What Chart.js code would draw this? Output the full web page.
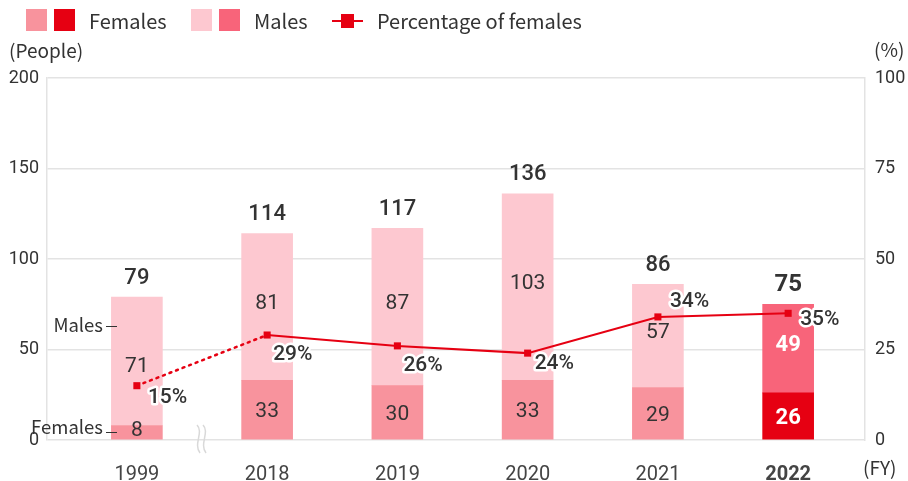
<!DOCTYPE html>
<html>
<head>
<meta charset="utf-8">
<script src="https://cdn.jsdelivr.net/npm/chart.js@4.4.0/dist/chart.umd.min.js"></script>
<style>
  html, body { margin: 0; padding: 0; background: #fff; }
  #wrap { position: relative; width: 908px; height: 481px; }
</style>
</head>
<body>
<div id="wrap"><canvas id="chart" width="908" height="481"></canvas></div>
<script>
const years = ["1999", "2018", "2019", "2020", "2021", "2022"];
const females = [8, 33, 30, 33, 29, 26];
const males = [71, 81, 87, 103, 57, 49];
const totals = [79, 114, 117, 136, 86, 75];
const pctFemales = [15, 29, 26, 24, 34, 35];
const leftTicks = [0, 50, 100, 150, 200];
const rightTicks = [0, 25, 50, 75, 100];

const femaleColors = ["#f8939d", "#f8939d", "#f8939d", "#f8939d", "#f8939d", "#e60012"];
const maleColors = ["#fdc8d0", "#fdc8d0", "#fdc8d0", "#fdc8d0", "#fdc8d0", "#f8647a"];
const red = "#e60012";
const textDark = "#333333";
const numFont = "Roboto, 'Noto Sans', sans-serif";
const jpFont = "'Noto Sans CJK JP', 'Noto Sans', sans-serif";

// where each % label sits relative to its point
const pctOffsets = [[11, 12], [6, 20], [6, 20], [7, 11], [12, -15], [12, 6]];

const labelsPlugin = {
  id: "labels",
  afterDatasetsDraw(chart) {
    const ctx = chart.ctx;
    const fem = chart.getDatasetMeta(0).data;
    const mal = chart.getDatasetMeta(1).data;
    const pts = chart.getDatasetMeta(2).data;
    ctx.save();
    ctx.textAlign = "center";
    ctx.textBaseline = "middle";
    years.forEach((y, i) => {
      const last = i === years.length - 1;
      ctx.fillStyle = last ? "#fff" : textDark;
      ctx.font = (last ? "bold 22px " : "21px ") + numFont;
      ctx.fillText(females[i], fem[i].x, (fem[i].y + fem[i].base) / 2 + (i === 0 ? -2 : 2));
      ctx.fillText(males[i], mal[i].x, (mal[i].y + mal[i].base) / 2 + (i === 0 ? 5 : -3));
      ctx.fillStyle = textDark;
      ctx.font = (last ? "bold 24px " : "500 22px ") + numFont;
      ctx.fillText(totals[i], mal[i].x, mal[i].y - 19);
    });
    ctx.textAlign = "left";
    ctx.font = "500 21px " + numFont;
    ctx.lineJoin = "round";
    pts.forEach((p, i) => {
      const [dx, dy] = pctOffsets[i];
      ctx.strokeStyle = "#fff";
      ctx.lineWidth = 5;
      ctx.strokeText(pctFemales[i] + "%", p.x + dx, p.y + dy);
      ctx.fillStyle = textDark;
      ctx.fillText(pctFemales[i] + "%", p.x + dx, p.y + dy);
    });
    ctx.restore();
  }
};

const decorPlugin = {
  id: "decor",
  afterDraw(chart) {
    const ctx = chart.ctx;
    ctx.save();
    ctx.textBaseline = "middle";
    // legend
    const sq = (x, c) => { ctx.fillStyle = c; ctx.fillRect(x, 9, 21, 22); };
    sq(26, "#f8939d"); sq(54, red);
    sq(191, "#fdc8d0"); sq(219, "#f8647a");
    ctx.strokeStyle = red; ctx.lineWidth = 2;
    ctx.beginPath(); ctx.moveTo(332, 21); ctx.lineTo(363, 21); ctx.stroke();
    ctx.fillStyle = red; ctx.fillRect(341, 14, 13, 14);
    ctx.fillStyle = textDark;
    ctx.font = "20px " + jpFont;
    ctx.textAlign = "left";
    ctx.fillText("Females", 89, 21);
    ctx.fillText("Males", 254, 21);
    ctx.fillText("Percentage of females", 377, 21);
    // axis titles
    ctx.font = "19px " + jpFont;
    ctx.fillText("(People)", 9, 51);
    ctx.fillText("(%)", 874, 50);
    ctx.fillText("(FY)", 863, 468);
    // side notes on the 1999 bar
    ctx.textAlign = "right";
    ctx.font = "18.5px " + jpFont;
    ctx.fillText("Males", 103, 325);
    ctx.fillText("Females", 103, 427);
    ctx.strokeStyle = textDark; ctx.lineWidth = 1;
    ctx.beginPath();
    ctx.moveTo(106, 326.5); ctx.lineTo(117, 326.5);
    ctx.moveTo(106, 432.5); ctx.lineTo(117, 432.5);
    ctx.stroke();
    // axis break mark
    const bx = chart.scales.x.getPixelForValue(0.5);
    ctx.strokeStyle = "#d9d9d9"; ctx.lineWidth = 1.5;
    [-3, 3].forEach(o => {
      ctx.beginPath();
      ctx.moveTo(bx + o - 2, 425);
      ctx.bezierCurveTo(bx + o + 5, 432, bx + o - 6, 444, bx + o + 1, 453);
      ctx.stroke();
    });
    ctx.restore();
  }
};

new Chart(document.getElementById("chart"), {
  data: {
    datasets: [
      {
        type: "bar",
        label: "Females",
        data: females.map((v, i) => ({ x: i, y: v })),
        backgroundColor: femaleColors,
        barThickness: 51,
        yAxisID: "y",
        order: 1
      },
      {
        type: "bar",
        label: "Males",
        data: males.map((v, i) => ({ x: i, y: v })),
        backgroundColor: maleColors,
        barThickness: 51,
        yAxisID: "y",
        order: 1
      },
      {
        type: "line",
        label: "Percentage of females",
        data: pctFemales.map((v, i) => ({ x: i, y: v })),
        borderColor: red,
        backgroundColor: red,
        borderWidth: 2,
        pointStyle: "rect",
        pointRadius: 5,
        pointBorderWidth: 0,
        yAxisID: "y2",
        order: 0,
        segment: {
          borderDash: (c) => (c.p0DataIndex === 0 ? [2, 5] : undefined),
          borderWidth: (c) => (c.p0DataIndex === 0 ? 2.5 : 2)
        },
        borderCapStyle: "round"
      }
    ]
  },
  options: {
    responsive: false,
    animation: false,
    layout: { padding: { top: 78, left: 0, right: 0, bottom: 0 } },
    plugins: { legend: { display: false }, tooltip: { enabled: false } },
    scales: {
      x: {
        type: "linear",
        min: -0.69,
        max: 5.59,
        offset: false,
        stacked: true,
        afterBuildTicks: (s) => { s.ticks = years.map((y, i) => ({ value: i })); },
        afterFit: (s) => { s.height = 41; },
        grid: { display: false },
        border: { display: false },
        ticks: {
          padding: 15,
          color: "#444",
          font: (c) => ({ family: numFont, size: 20, weight: c.index === 5 ? "bold" : "normal" }),
          callback: (v) => years[v]
        }
      },
      y: {
        position: "left",
        stacked: true,
        min: 0,
        max: 200,
        afterBuildTicks: (s) => { s.ticks = leftTicks.map(v => ({ value: v })); },
        afterFit: (s) => { s.width = 47; },
        grid: { color: "#e3e3e3", lineWidth: 1.5, drawTicks: false },
        border: { color: "#e3e3e3", width: 1.5 },
        ticks: { padding: 8, color: textDark, font: { family: numFont, size: 18 } }
      },
      y2: {
        position: "right",
        min: 0,
        max: 100,
        afterBuildTicks: (s) => { s.ticks = rightTicks.map(v => ({ value: v })); },
        afterFit: (s) => { s.width = 43; },
        grid: { display: false, drawTicks: false },
        border: { color: "#e3e3e3", width: 1.5 },
        ticks: { padding: 10, color: textDark, font: { family: numFont, size: 18 } }
      }
    }
  },
  plugins: [labelsPlugin, decorPlugin]
});
</script>
</body>
</html>
